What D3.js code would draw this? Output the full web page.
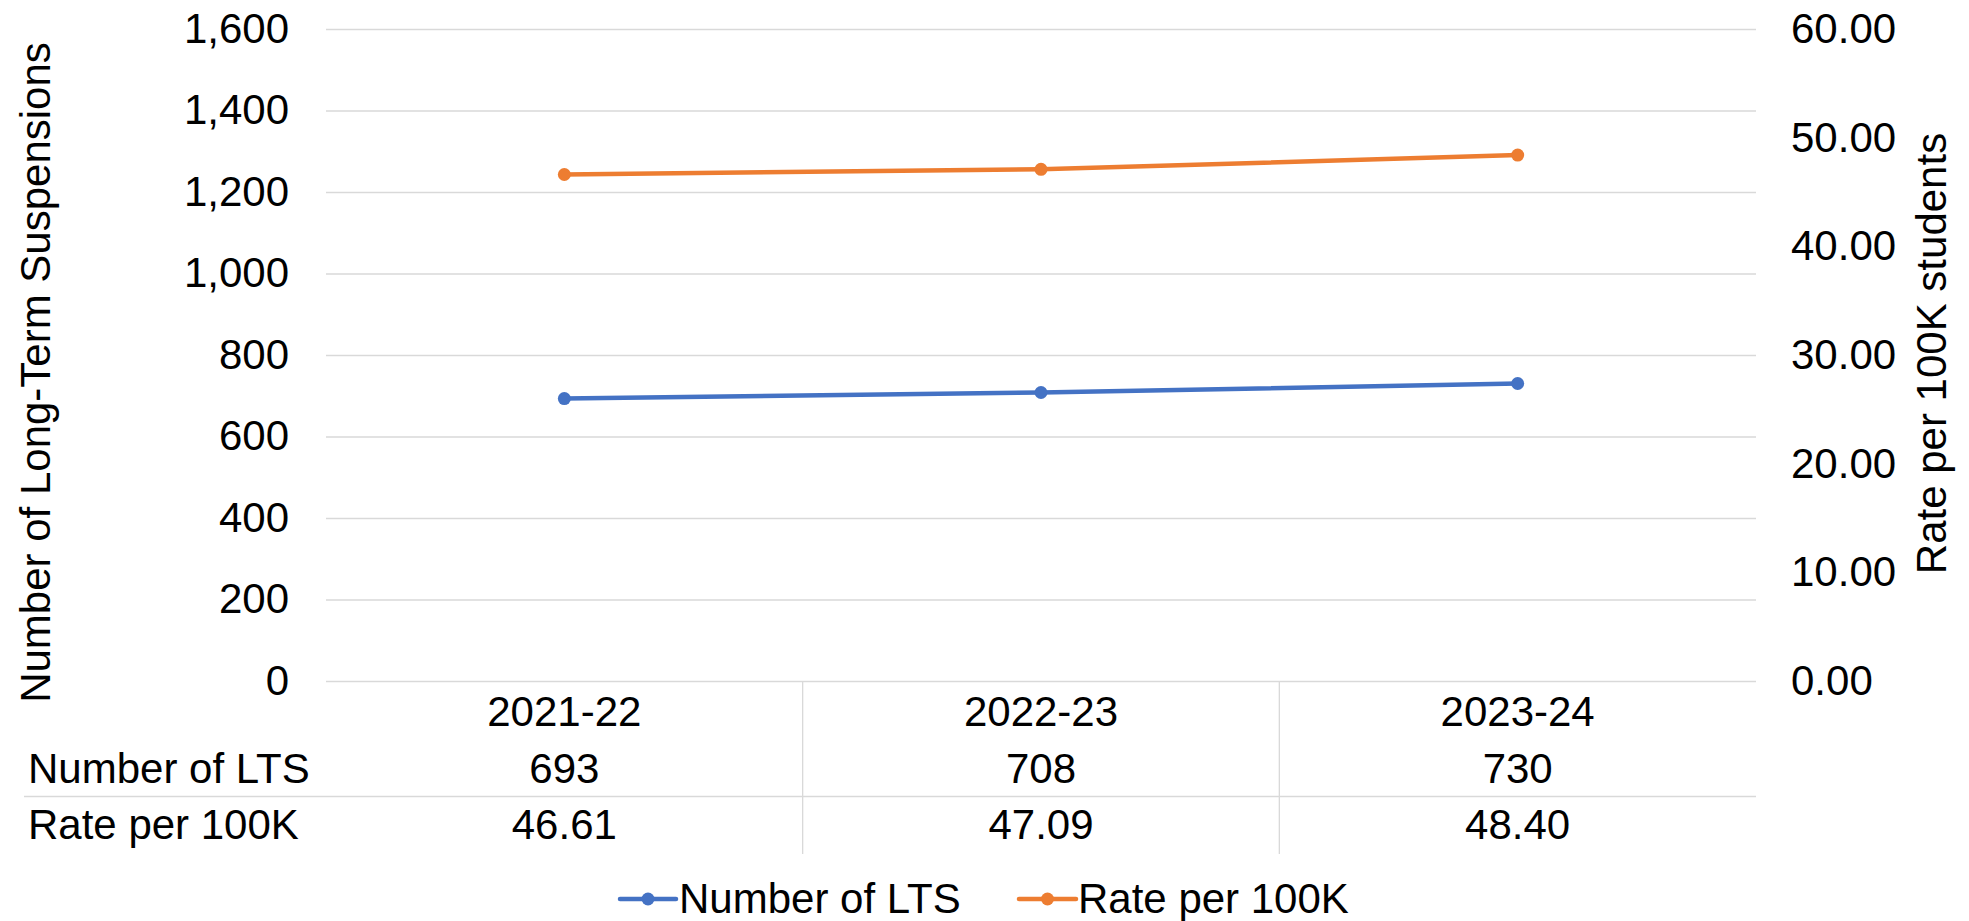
<!DOCTYPE html>
<html>
<head>
<meta charset="utf-8">
<script src="https://cdn.jsdelivr.net/npm/d3@7"></script>
<style>
  html, body { margin: 0; padding: 0; background: #ffffff; }
  svg { display: block; }
  text { font-family: "Liberation Sans", Arial, sans-serif; fill: #000000; }
</style>
</head>
<body>
<svg id="chart" width="1969" height="921"></svg>
<script>
const categories = ["2021-22", "2022-23", "2023-24"];
const ltsValues = [693, 708, 730];
const rateValues = [46.61, 47.09, 48.40];
const leftTicks = [0, 200, 400, 600, 800, 1000, 1200, 1400, 1600];
const rightTicks = [0, 10, 20, 30, 40, 50, 60];
const seriesNames = ["Number of LTS", "Rate per 100K"];
const leftTitle = "Number of Long-Term Suspensions";
const rightTitle = "Rate per 100K students";

const colors = ["#4472C4", "#ED7D31"];
const gridColor = "#D9D9D9";
const fontSize = 42;

const svg = d3.select("#chart");
const plot = { left: 326, right: 1756, top: 29, bottom: 681 };

const x = d3.scaleBand().domain(categories).range([plot.left, plot.right]);
const yL = d3.scaleLinear().domain([0, 1600]).range([plot.bottom, plot.top]);
const yR = d3.scaleLinear().domain([0, 60]).range([plot.bottom, plot.top]);
const cx = d => x(d) + x.bandwidth() / 2;

// Left axis with gridlines
const gL = svg.append("g").attr("transform", `translate(${plot.left},0)`)
  .call(d3.axisLeft(yL).tickValues(leftTicks).tickFormat(d3.format(","))
    .tickSize(-(plot.right - plot.left)).tickPadding(37));
gL.select(".domain").remove();
gL.selectAll(".tick line").attr("stroke", gridColor).attr("stroke-width", 1.3);
gL.selectAll(".tick text").attr("font-size", fontSize)
  .attr("font-family", "Liberation Sans, Arial, sans-serif").attr("fill", "#000");

// Right axis labels
const gR = svg.append("g").attr("transform", `translate(${plot.right},0)`)
  .call(d3.axisRight(yR).tickValues(rightTicks).tickFormat(d3.format(".2f"))
    .tickSize(0).tickPadding(35));
gR.select(".domain").remove();
gR.selectAll(".tick text").attr("font-size", fontSize)
  .attr("font-family", "Liberation Sans, Arial, sans-serif").attr("fill", "#000");

// Data table below axis
const tableLines = svg.append("g");
categories.slice(1).forEach(c => {
  tableLines.append("line")
    .attr("x1", x(c)).attr("x2", x(c))
    .attr("y1", plot.bottom).attr("y2", 854)
    .attr("stroke", gridColor).attr("stroke-width", 1.3);
});
tableLines.append("line")
  .attr("x1", 24).attr("x2", plot.right)
  .attr("y1", 796.5).attr("y2", 796.5)
  .attr("stroke", gridColor).attr("stroke-width", 1.3);

svg.append("g").selectAll("text.cat").data(categories).join("text")
  .attr("class", "cat")
  .attr("x", d => cx(d)).attr("y", 726)
  .attr("text-anchor", "middle").attr("font-size", fontSize)
  .text(d => d);

const rowY = [782.5, 839];
const rowFormats = [d3.format("d"), d3.format(".2f")];
[ltsValues, rateValues].forEach((vals, i) => {
  svg.append("text").attr("x", 28).attr("y", rowY[i])
    .attr("font-size", fontSize).text(seriesNames[i]);
  svg.append("g").selectAll("text").data(vals).join("text")
    .attr("x", (d, j) => cx(categories[j])).attr("y", rowY[i])
    .attr("text-anchor", "middle").attr("font-size", fontSize)
    .text(d => rowFormats[i](d));
});

// Lines
const series = [
  { vals: ltsValues, y: yL, color: colors[0] },
  { vals: rateValues, y: yR, color: colors[1] }
];
series.forEach(s => {
  const line = d3.line().x((d, j) => cx(categories[j])).y(d => s.y(d));
  svg.append("path").datum(s.vals)
    .attr("d", line).attr("fill", "none")
    .attr("stroke", s.color).attr("stroke-width", 4.5)
    .attr("stroke-linecap", "round").attr("stroke-linejoin", "round");
  svg.append("g").selectAll("circle").data(s.vals).join("circle")
    .attr("cx", (d, j) => cx(categories[j])).attr("cy", d => s.y(d))
    .attr("r", 6.5).attr("fill", s.color);
});

// Axis titles
svg.append("text")
  .attr("transform", `translate(50, 372.5) rotate(-90)`)
  .attr("text-anchor", "middle").attr("font-size", fontSize)
  .text(leftTitle);
svg.append("text")
  .attr("transform", `translate(1946, 353.5) rotate(-90)`)
  .attr("text-anchor", "middle").attr("font-size", fontSize)
  .text(rightTitle);

// Legend
const legendItems = [
  { name: seriesNames[0], color: colors[0], x0: 620, x1: 676, tx: 679 },
  { name: seriesNames[1], color: colors[1], x0: 1019, x1: 1076, tx: 1078 }
];
const lg = svg.append("g");
legendItems.forEach(it => {
  lg.append("line").attr("x1", it.x0).attr("x2", it.x1)
    .attr("y1", 899).attr("y2", 899)
    .attr("stroke", it.color).attr("stroke-width", 4.5).attr("stroke-linecap", "round");
  lg.append("circle").attr("cx", (it.x0 + it.x1) / 2).attr("cy", 899)
    .attr("r", 6.5).attr("fill", it.color);
  lg.append("text").attr("x", it.tx).attr("y", 913)
    .attr("font-size", fontSize).text(it.name);
});
</script>
</body>
</html>
